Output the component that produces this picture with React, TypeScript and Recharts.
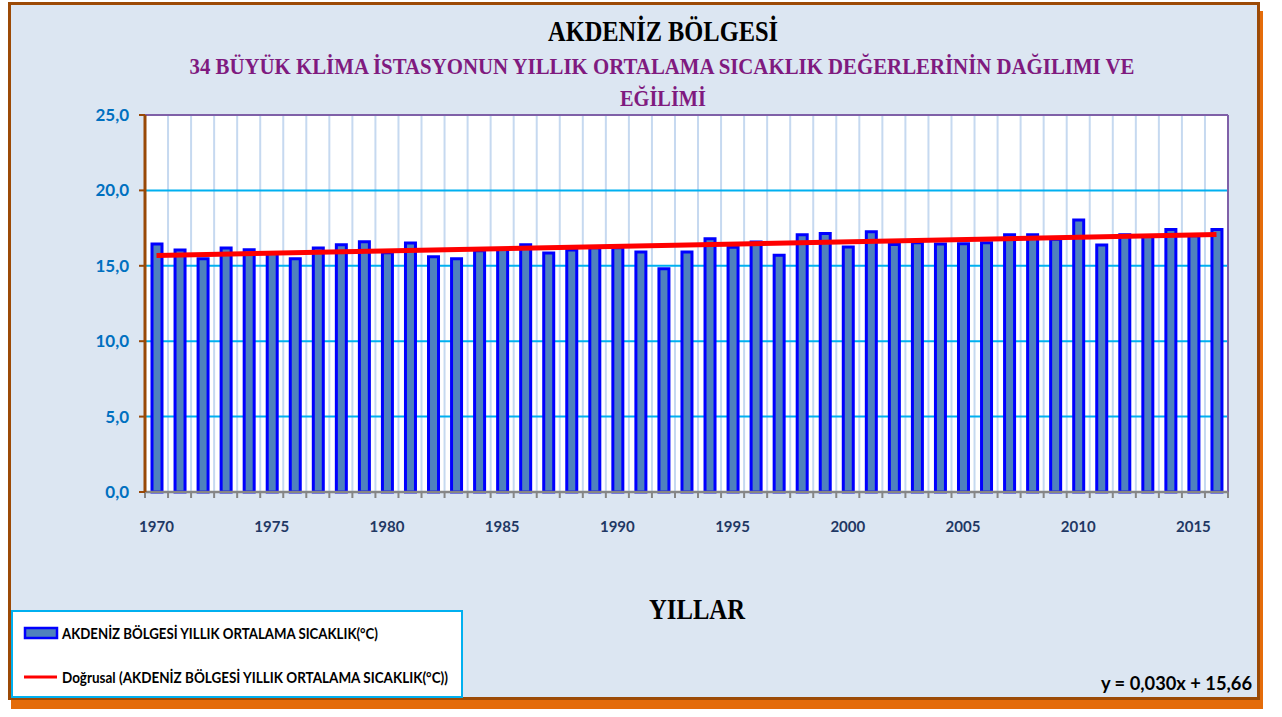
import { ComposedChart, Bar, Line, XAxis, YAxis, CartesianGrid } from "recharts";

const years = [
  1970, 1971, 1972, 1973, 1974, 1975, 1976, 1977, 1978, 1979,
  1980, 1981, 1982, 1983, 1984, 1985, 1986, 1987, 1988, 1989,
  1990, 1991, 1992, 1993, 1994, 1995, 1996, 1997, 1998, 1999,
  2000, 2001, 2002, 2003, 2004, 2005, 2006, 2007, 2008, 2009,
  2010, 2011, 2012, 2013, 2014, 2015, 2016
];

const temps = [
  16.45, 16.05, 15.47, 16.18, 16.07, 15.83, 15.47, 16.18, 16.4, 16.6,
  15.87, 16.51, 15.6, 15.47, 16.0, 16.1, 16.4, 15.85, 16.05, 16.2,
  16.2, 15.92, 14.81, 15.92, 16.8, 16.23, 16.58, 15.7, 17.06, 17.15,
  16.25, 17.26, 16.42, 16.53, 16.45, 16.47, 16.53, 17.06, 17.06, 16.76,
  18.04, 16.38, 17.06, 16.95, 17.4, 17.0, 17.4
];

// trend line ends
const trendStart = 15.69;
const trendEnd = 17.07;

const yTicks = [0, 5, 10, 15, 20, 25];
const yearLabels = [1970, 1975, 1980, 1985, 1990, 1995, 2000, 2005, 2010, 2015];

const title = "AKDENİZ BÖLGESİ";
const subtitle1 = "34  BÜYÜK KLİMA İSTASYONUN YILLIK ORTALAMA SICAKLIK DEĞERLERİNİN DAĞILIMI VE";
const subtitle2 = "EĞİLİMİ";
const xTitle = "YILLAR";
const seriesName = "AKDENİZ BÖLGESİ YILLIK ORTALAMA SICAKLIK(°C)";
const trendName = "Doğrusal (AKDENİZ BÖLGESİ YILLIK ORTALAMA SICAKLIK(°C))";
const equation = "y = 0,030x + 15,66";

const data = years.map((year, i) => ({
  year,
  temp: temps[i],
  trend: i === 0 ? trendStart : i === years.length - 1 ? trendEnd : null
}));

const bounds = [...years.map((y) => y - 0.5), years[years.length - 1] + 0.5];
const domain: [number, number] = [bounds[0], bounds[bounds.length - 1]];

const sans = "Lato, 'Liberation Sans', sans-serif";
const serif = "'Liberation Serif', 'Times New Roman', serif";

const NoLabel = () => <g />;

export default function App() {
  return (
    <div style={{ position: "fixed", left: 0, top: 0, width: 1282, height: 717, background: "#fff", overflow: "hidden" }}>
      <div
        style={{
          position: "absolute",
          left: 8,
          top: 2,
          width: 1246,
          height: 692,
          background: "#dce6f2",
          border: "3px solid #9c4a06",
          boxShadow: "3px 9px 0 #e46c0a"
        }}
      />
      <div style={{ position: "absolute", left: 0, top: 0 }}>
        <ComposedChart width={1282} height={717} data={data} margin={{ top: 115, right: 54, left: 0, bottom: 177 }}>
          <CartesianGrid
            xAxisId="bounds"
            fill="#ffffff"
            horizontal={false}
            verticalValues={bounds}
            stroke="#c6d9f0"
            strokeWidth={2}
          />
          <CartesianGrid
            xAxisId="bounds"
            vertical={false}
            horizontalValues={[5, 10, 15, 20]}
            stroke="#00b0f0"
            strokeWidth={2}
          />
          <CartesianGrid
            xAxisId="bounds"
            horizontalValues={[25]}
            verticalValues={[domain[1]]}
            stroke="#7f60a8"
            strokeWidth={2}
          />
          <XAxis
            xAxisId="bounds"
            dataKey="year"
            type="number"
            domain={domain}
            allowDataOverflow
            ticks={bounds}
            interval={0}
            tick={<NoLabel />}
            tickSize={6}
            height={8}
            axisLine={{ stroke: "#868686", strokeWidth: 2.5 }}
            tickLine={{ stroke: "#868686", strokeWidth: 2 }}
          />
          <XAxis
            xAxisId="labels"
            dataKey="year"
            type="number"
            domain={domain}
            allowDataOverflow
            ticks={yearLabels}
            interval={0}
            height={40}
            tickSize={0}
            tickMargin={21}
            axisLine={false}
            tickLine={false}
            tick={{ fill: "#1f3864", fontSize: 15, fontWeight: 700, fontFamily: sans }}
          />
          <YAxis
            domain={[0, 25]}
            ticks={yTicks}
            interval={0}
            width={145}
            tickSize={6}
            tickMargin={10}
            tickFormatter={(v: number) => v.toFixed(1).replace(".", ",")}
            axisLine={{ stroke: "#984807", strokeWidth: 3 }}
            tickLine={{ stroke: "#984807", strokeWidth: 2 }}
            tick={{ fill: "#0070c0", fontSize: 17, fontWeight: 700, fontFamily: sans }}
          />
          <Bar
            xAxisId="labels"
            dataKey="temp"
            name={seriesName}
            barSize={10}
            fill="#4f81bd"
            stroke="#0000ff"
            strokeWidth={3}
            isAnimationActive={false}
          />
          <Line
            xAxisId="labels"
            dataKey="trend"
            name={trendName}
            stroke="#ff0000"
            strokeWidth={5}
            dot={false}
            connectNulls
            isAnimationActive={false}
          />
        </ComposedChart>
      </div>
      <svg width={1282} height={717} style={{ position: "absolute", left: 0, top: 0, pointerEvents: "none" }}>
        <text x={663} y={41} textAnchor="middle" fontFamily={serif} fontWeight={700} fontSize={29} fill="#000" textLength={230} lengthAdjust="spacingAndGlyphs">
          {title}
        </text>
        <text x={662} y={74} textAnchor="middle" fontFamily={serif} fontWeight={700} fontSize={23} fill="#7f1a7f" textLength={945} lengthAdjust="spacingAndGlyphs">
          {subtitle1}
        </text>
        <text x={663} y={106} textAnchor="middle" fontFamily={serif} fontWeight={700} fontSize={23} fill="#7f1a7f" textLength={86} lengthAdjust="spacingAndGlyphs">
          {subtitle2}
        </text>
        <text x={697} y={619} textAnchor="middle" fontFamily={serif} fontWeight={700} fontSize={30} fill="#000" textLength={96} lengthAdjust="spacingAndGlyphs">
          {xTitle}
        </text>
        <text x={1252} y={690} textAnchor="end" fontFamily={sans} fontWeight={700} fontSize={19} fill="#000" textLength={151} lengthAdjust="spacingAndGlyphs">
          {equation}
        </text>
        <rect x={12} y={611} width={450} height={86} fill="#fff" stroke="#00b0f0" strokeWidth={2} />
        <rect x={25} y={628} width={32} height={10} fill="#4f81bd" stroke="#0000ff" strokeWidth={2.5} />
        <text x={62} y={639} fontFamily={sans} fontWeight={700} fontSize={16} fill="#000" textLength={316} lengthAdjust="spacingAndGlyphs">
          {seriesName}
        </text>
        <line x1={24} y1={677} x2={57} y2={677} stroke="#ff0000" strokeWidth={3} />
        <text x={62} y={683} fontFamily={sans} fontWeight={700} fontSize={16} fill="#000" textLength={386} lengthAdjust="spacingAndGlyphs">
          {trendName}
        </text>
      </svg>
    </div>
  );
}
